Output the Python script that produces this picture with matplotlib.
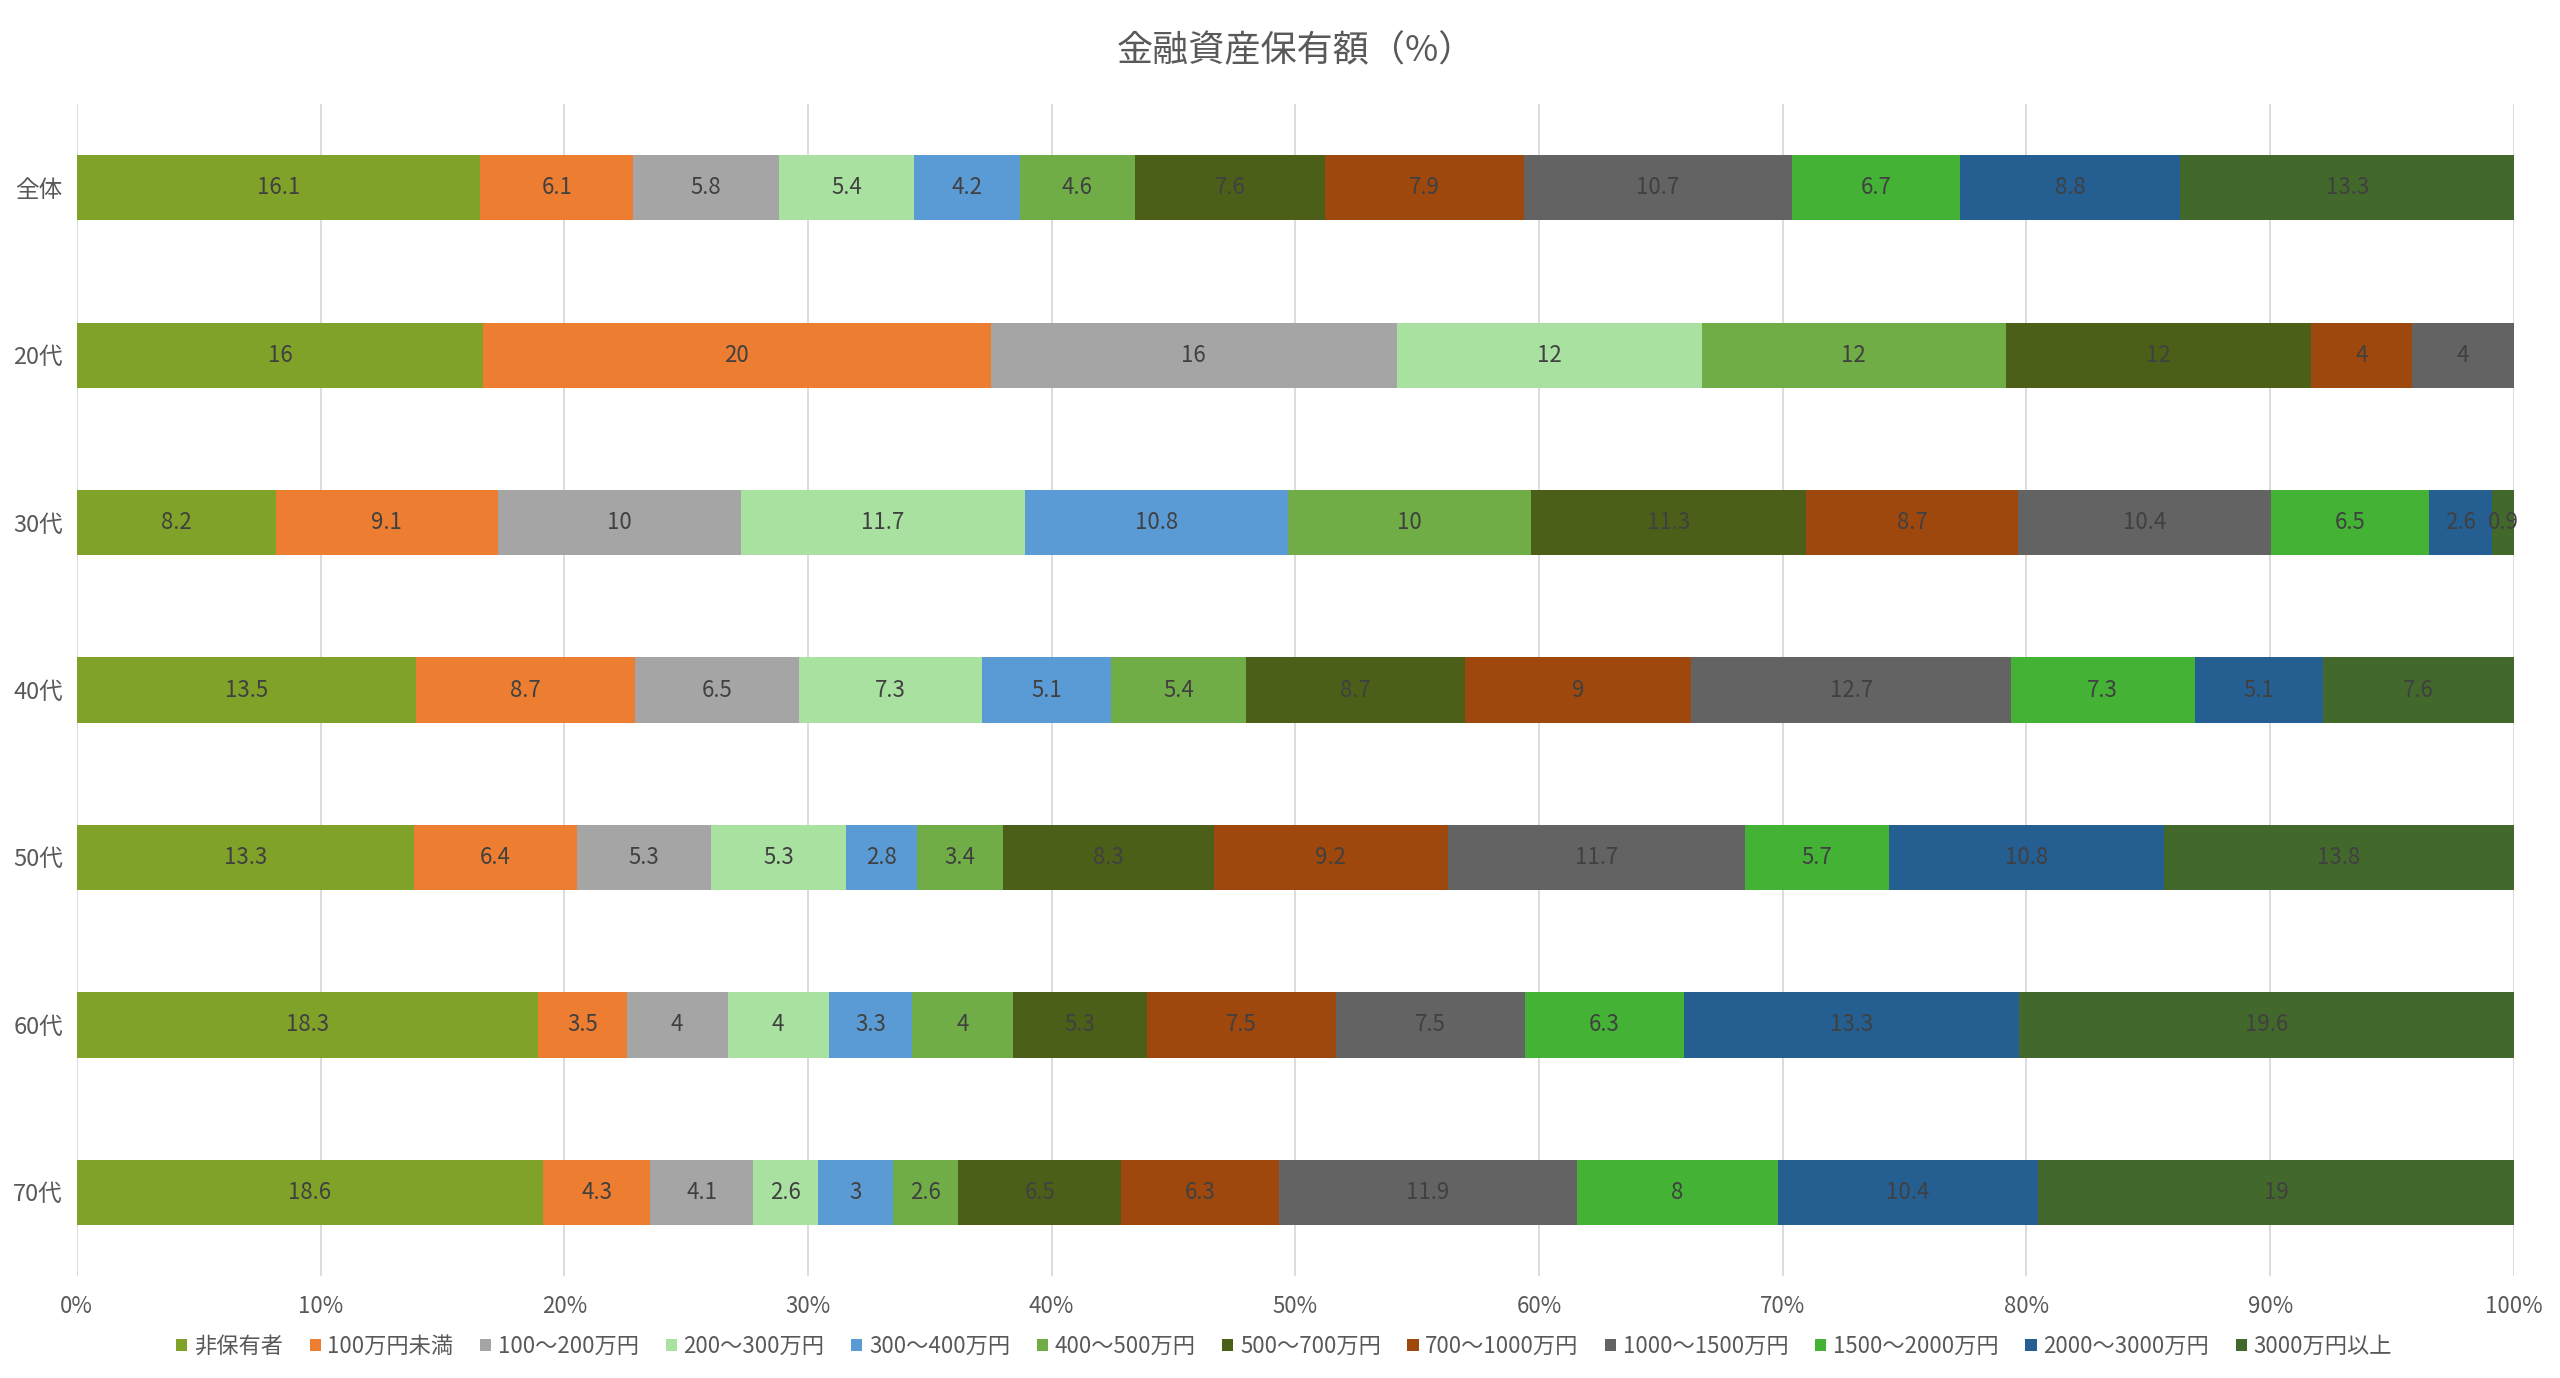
import numpy as np
import matplotlib
matplotlib.use("Agg")
from matplotlib import pyplot as plt

plt.rcParams['font.family'] = ['Noto Sans CJK JP', 'DejaVu Sans']

# データ
categories = ["全体", "20代", "30代", "40代", "50代", "60代", "70代"]
series = ["非保有者", "100万円未満", "100～200万円", "200～300万円", "300～400万円",
          "400～500万円", "500～700万円", "700～1000万円", "1000～1500万円",
          "1500～2000万円", "2000～3000万円", "3000万円以上"]
colors = ["#80A229", "#ED7D31", "#A5A5A5", "#A9E2A0", "#5B9BD5", "#70AD47",
          "#4C5F19", "#9E480E", "#636363", "#43B235", "#255E91", "#43682B"]

values = {
    "全体": [16.1, 6.1, 5.8, 5.4, 4.2, 4.6, 7.6, 7.9, 10.7, 6.7, 8.8, 13.3],
    "20代": [16, 20, 16, 12, 0, 12, 12, 4, 4, 0, 0, 0],
    "30代": [8.2, 9.1, 10, 11.7, 10.8, 10, 11.3, 8.7, 10.4, 6.5, 2.6, 0.9],
    "40代": [13.5, 8.7, 6.5, 7.3, 5.1, 5.4, 8.7, 9, 12.7, 7.3, 5.1, 7.6],
    "50代": [13.3, 6.4, 5.3, 5.3, 2.8, 3.4, 8.3, 9.2, 11.7, 5.7, 10.8, 13.8],
    "60代": [18.3, 3.5, 4, 4, 3.3, 4, 5.3, 7.5, 7.5, 6.3, 13.3, 19.6],
    "70代": [18.6, 4.3, 4.1, 2.6, 3, 2.6, 6.5, 6.3, 11.9, 8, 10.4, 19],
}

data = np.array([values[c] for c in categories], dtype=float)
pct = data / data.sum(axis=1, keepdims=True) * 100

fig = plt.figure(figsize=(25.6, 13.78), dpi=100)
ax = fig.add_axes([0.030, 0.074, 0.952, 0.8505])

y = np.arange(len(categories))
left = np.zeros(len(categories))
for j, name in enumerate(series):
    w = pct[:, j]
    bars = ax.barh(y, w, left=left, height=0.39, color=colors[j], label=name, zorder=3)
    for i, b in enumerate(bars):
        if data[i, j] > 0:
            ax.text(left[i] + w[i] / 2, y[i], f"{data[i, j]:g}", ha="center", va="center",
                    fontsize=16, color="#404040", zorder=4)
    left += w

ax.set_xlim(0, 100)
ax.set_ylim(6.5, -0.5)
ax.set_yticks(y)
ax.set_yticklabels(categories, fontsize=17, color="#595959")
ax.set_xticks(np.arange(0, 101, 10))
ax.set_xticklabels([f"{v}%" for v in range(0, 101, 10)], fontsize=16, color="#595959")
ax.tick_params(axis="x", length=0, pad=14)
ax.tick_params(axis="y", length=0, pad=10)
ax.grid(axis="x", color="#D9D9D9", linewidth=1.3, zorder=0)
for s in ax.spines.values():
    s.set_visible(False)

ax.set_title("金融資産保有額（%）", fontsize=26, color="#595959", pad=31)

fig.legend(loc="center", bbox_to_anchor=(0.5016, 0.023), ncol=12, frameon=False,
           fontsize=16, handlelength=0.5, handleheight=0.5, handletextpad=0.3,
           columnspacing=1.2, labelcolor="#595959")

fig.savefig("out.png", dpi=100)
